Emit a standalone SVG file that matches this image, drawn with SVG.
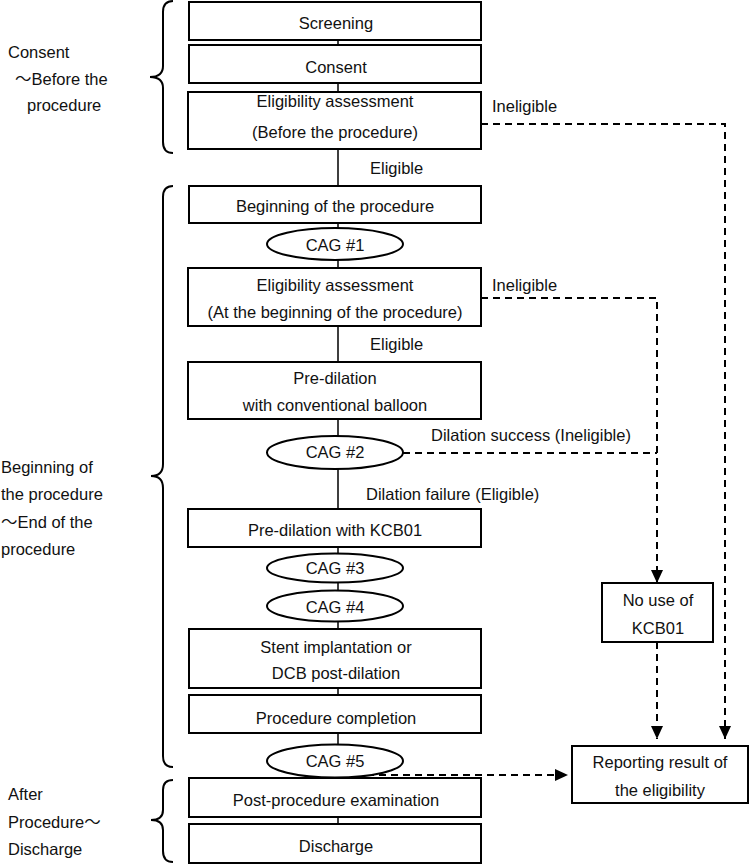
<svg xmlns="http://www.w3.org/2000/svg" width="750" height="864" viewBox="0 0 750 864">
  <style>
    .box { fill: #fff; stroke: #000; stroke-width: 2; }
    .oval { fill: #fff; stroke: #000; stroke-width: 2; }
    .line { fill: none; stroke: #000; stroke-width: 1.5; }
    .dash { fill: none; stroke: #000; stroke-width: 2; stroke-dasharray: 7 5; }
    .brace { fill: none; stroke: #000; stroke-width: 2; }
    text { font-family: "Liberation Sans", "Noto Sans CJK JP", sans-serif; font-size: 16.5px; fill: #111; }
    .c { text-anchor: middle; }
  </style>
  <defs>
    <marker id="arrow" viewBox="0 0 13 12" markerWidth="13" markerHeight="12" refX="13" refY="6" orient="auto" markerUnits="userSpaceOnUse">
      <path d="M0,0 L13,6 L0,12 Z" fill="#000"/>
    </marker>
  </defs>

  <!-- phase braces and labels -->
  <g id="phase-consent">
    <path class="brace" d="M173,1 Q163,1 163,12 L163,66 Q163,77 150,77 Q163,77 163,88 L163,142 Q163,153 173,153"/>
    <text x="8" y="58">Consent</text>
    <text x="15" y="85">～Before the</text>
    <text x="27" y="111">procedure</text>
  </g>
  <g id="phase-procedure">
    <path class="brace" d="M173,186 Q163,186 163,197 L163,464 Q163,476 151,476 Q163,476 163,488 L163,756 Q163,767 173,767"/>
    <text x="1" y="473">Beginning of</text>
    <text x="1" y="500">the procedure</text>
    <text x="1" y="528">～End of the</text>
    <text x="1" y="555">procedure</text>
  </g>
  <g id="phase-after">
    <path class="brace" d="M173,780 Q163,780 163,790 L163,810 Q163,820 151,820 Q163,820 163,830 L163,851 Q163,862 173,862"/>
    <text x="8" y="800">After</text>
    <text x="8" y="828">Procedure～</text>
    <text x="8" y="855">Discharge</text>
  </g>

  <!-- connectors -->
  <g id="connectors">
    <path class="line" d="M338,40 V45 M338,83 V92 M338,149 V185 M338,223 V228 M338,260 V268 M338,326 V362 M338,419 V436 M338,469 V509 M338,547 V554 M338,582 V591 M338,622 V629 M338,688 V695 M338,733 V745 M338,777 V778 M338,817 V824"/>
    <path class="dash" d="M481,124 H725 V739" marker-end="url(#arrow)"/>
    <path class="dash" d="M481,298 H657 V583" marker-end="url(#arrow)"/>
    <path class="dash" d="M403,453 H657"/>
    <path class="dash" d="M657,642 V739" marker-end="url(#arrow)"/>
    <path class="dash" d="M343,775 H568" marker-end="url(#arrow)"/>
    <text x="370" y="174">Eligible</text>
    <text x="492" y="112">Ineligible</text>
    <text x="492" y="291">Ineligible</text>
    <text x="370" y="350">Eligible</text>
    <text x="431" y="441">Dilation success (Ineligible)</text>
    <text x="366" y="500">Dilation failure (Eligible)</text>
  </g>

  <!-- main flow -->
  <g id="screening">
    <rect class="box" x="189" y="2" width="292" height="38"/>
    <text class="c" x="336" y="29">Screening</text>
  </g>
  <g id="consent">
    <rect class="box" x="189" y="45" width="292" height="38"/>
    <text class="c" x="336" y="73">Consent</text>
  </g>
  <g id="eligibility-before">
    <rect class="box" x="188" y="92" width="293" height="57"/>
    <text class="c" x="335" y="107">Eligibility assessment</text>
    <text class="c" x="335" y="138">(Before the procedure)</text>
  </g>
  <g id="procedure-start">
    <rect class="box" x="189" y="186" width="292" height="37"/>
    <text class="c" x="335" y="212">Beginning of the procedure</text>
  </g>
  <g id="cag1">
    <ellipse class="oval" cx="335" cy="244" rx="68" ry="16"/>
    <text class="c" x="335" y="251">CAG #1</text>
  </g>
  <g id="eligibility-start">
    <rect class="box" x="188" y="268" width="293" height="58"/>
    <text class="c" x="335" y="291">Eligibility assessment</text>
    <text class="c" x="335" y="318">(At the beginning of the procedure)</text>
  </g>
  <g id="predilation-conventional">
    <rect class="box" x="188" y="362" width="293" height="57"/>
    <text class="c" x="335" y="384">Pre-dilation</text>
    <text class="c" x="335" y="411">with conventional balloon</text>
  </g>
  <g id="cag2">
    <ellipse class="oval" cx="335" cy="452.5" rx="68" ry="16.5"/>
    <text class="c" x="335" y="458">CAG #2</text>
  </g>
  <g id="predilation-kcb01">
    <rect class="box" x="188" y="509" width="293" height="38"/>
    <text class="c" x="335" y="536">Pre-dilation with KCB01</text>
  </g>
  <g id="cag3">
    <ellipse class="oval" cx="335" cy="568" rx="68" ry="14.5"/>
    <text class="c" x="335" y="574">CAG #3</text>
  </g>
  <g id="cag4">
    <ellipse class="oval" cx="335" cy="606" rx="68" ry="15.5"/>
    <text class="c" x="335" y="613">CAG #4</text>
  </g>
  <g id="stent-or-dcb">
    <rect class="box" x="189" y="629" width="292" height="59"/>
    <text class="c" x="336" y="653">Stent implantation or</text>
    <text class="c" x="336" y="679">DCB post-dilation</text>
  </g>
  <g id="procedure-completion">
    <rect class="box" x="189" y="695" width="292" height="38"/>
    <text class="c" x="336" y="724">Procedure completion</text>
  </g>
  <g id="cag5">
    <ellipse class="oval" cx="335" cy="761" rx="68" ry="16.5"/>
    <text class="c" x="335" y="767">CAG #5</text>
  </g>
  <g id="post-procedure-exam">
    <rect class="box" x="189" y="778" width="292" height="39"/>
    <text class="c" x="336" y="806">Post-procedure examination</text>
  </g>
  <g id="discharge">
    <rect class="box" x="189" y="824" width="292" height="39"/>
    <text class="c" x="336" y="852">Discharge</text>
  </g>

  <!-- outcome boxes -->
  <g id="no-use-kcb01">
    <rect class="box" x="602" y="583" width="111" height="59"/>
    <text class="c" x="658" y="606">No use of</text>
    <text class="c" x="658" y="634">KCB01</text>
  </g>
  <g id="reporting-result">
    <rect class="box" x="572" y="746" width="176" height="57"/>
    <text class="c" x="660" y="768">Reporting result of</text>
    <text class="c" x="660" y="796">the eligibility</text>
  </g>
</svg>
